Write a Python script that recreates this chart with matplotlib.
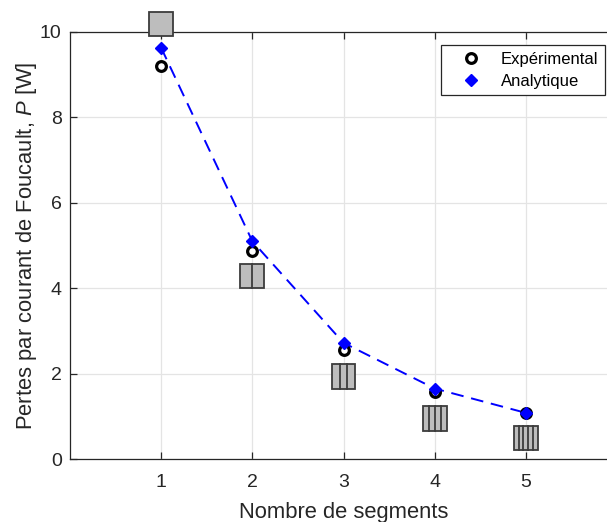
import matplotlib
matplotlib.use("Agg")
import matplotlib.pyplot as plt
from matplotlib.patches import Rectangle

plt.rcParams['font.family'] = ['Liberation Sans', 'DejaVu Sans']
plt.rcParams['mathtext.fontset'] = 'custom'
plt.rcParams['mathtext.it'] = 'Liberation Sans:italic'
plt.rcParams['mathtext.rm'] = 'Liberation Sans'

segments = [1, 2, 3, 4, 5]
experimental = [9.2, 4.87, 2.55, 1.57, 1.07]
analytique = [9.63, 5.1, 2.72, 1.65, 1.08]
icon_bottom = [9.9, 4.0, 1.64, 0.66, 0.21]
x_ticks = [1, 2, 3, 4, 5]
y_ticks = [0, 2, 4, 6, 8, 10]

W, H = 607, 522
fig = plt.figure(figsize=(W / 100, H / 100), dpi=100)
left, right, top, bottom = 70, 617, 32, 459
ax = fig.add_axes([left / W, 1 - bottom / H, (right - left) / W, (bottom - top) / H])
ax.set_xlim(0, 6)
ax.set_ylim(0, 10)
ax.set_xticks(x_ticks)
ax.set_yticks(y_ticks)
ax.grid(True, color='#e4e4e4', lw=0.9)
ax.set_axisbelow(True)
ax.tick_params(direction='in', length=5, width=0.9, color='#262626', labelcolor='#262626',
               labelsize=14, top=True, right=False)
ax.tick_params(axis='x', pad=11)
ax.tick_params(axis='y', pad=6)
for s in ax.spines.values():
    s.set_color('#262626')
    s.set_linewidth(0.9)

ax.set_xlabel('Nombre de segments', fontsize=15.8, color='#262626', labelpad=8)
ax.set_ylabel(r'Pertes par courant de Foucault, $\mathit{P}$ [W]', fontsize=15.8, color='#262626', labelpad=1)

ax.plot(segments, analytique, color='#0000ff', lw=1.4, dashes=(6.5, 4), zorder=3)
ax.plot(segments, experimental, ls='none', marker='o', ms=7, mew=2.3, mec='black', mfc='white',
        zorder=4, label='Expérimental')
ax.plot(segments, analytique, ls='none', marker='D', ms=5.8, mec='#0000ff', mfc='#0000ff', mew=1,
        zorder=5, label='Analytique')

icon_w = 24 / 91.17
icon_h = 24.5 / 42.7
for n, y0 in zip(segments, icon_bottom):
    x0 = n - icon_w / 2
    ax.add_patch(Rectangle((x0, y0), icon_w, icon_h, fc='#bdbdbd', ec='#3c3c3c', lw=1.3,
                           clip_on=False, zorder=6))
    for k in range(1, n):
        xk = x0 + icon_w * k / n
        ax.plot([xk, xk], [y0, y0 + icon_h], color='#3c3c3c', lw=1.3, clip_on=False, zorder=7)

leg = ax.legend(loc='upper left', bbox_to_anchor=((441 - left) / (right - left), 1 - (45 - top) / (bottom - top)),
                borderaxespad=0, fontsize=12, frameon=True, fancybox=False, framealpha=1,
                edgecolor='#262626', borderpad=0.4, labelspacing=0.42, handlelength=2.8,
                handletextpad=0.4)
leg.get_frame().set_linewidth(0.9)
leg.set_zorder(10)

fig.savefig('out.png', dpi=100)
